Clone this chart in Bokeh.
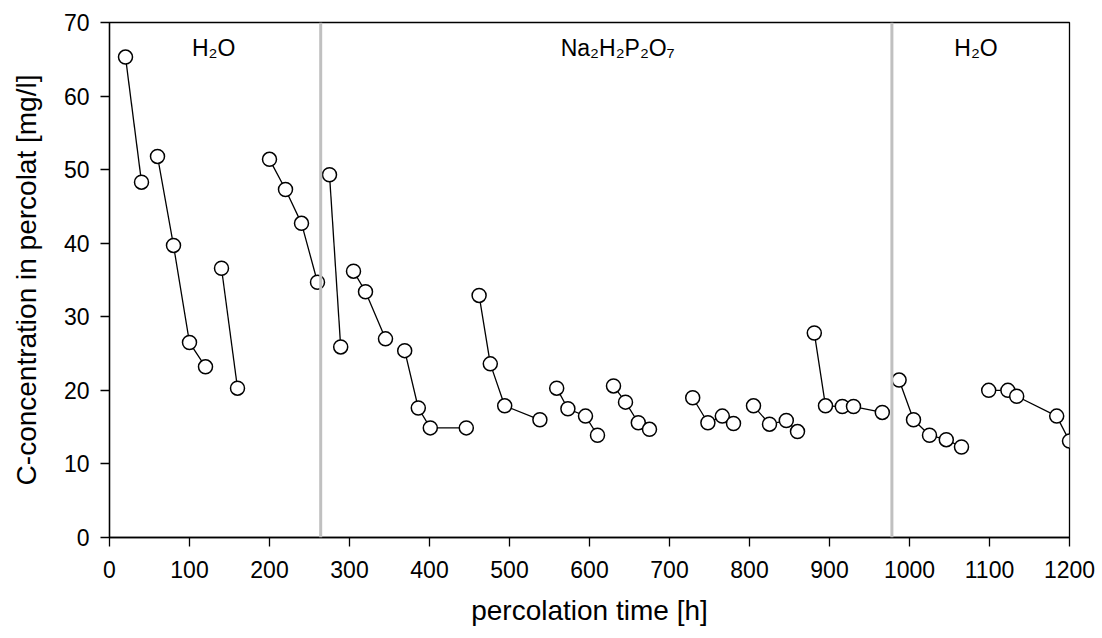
from bokeh.plotting import figure
from bokeh.models import Span, Label, FixedTicker, Range1d, ColumnDataSource
from bokeh.embed import file_html
from bokeh.resources import INLINE

# ---- data ----
run_id = [1, 1,
          2, 2, 2, 2,
          3, 3,
          4, 4, 4, 4,
          5, 5,
          6, 6, 6,
          7, 7, 7, 7,
          8, 8, 8, 8,
          9, 9, 9, 9,
          10, 10, 10, 10,
          11, 11, 11, 11,
          12, 12, 12, 12,
          13, 13, 13, 13, 13,
          14, 14, 14, 14, 14,
          15, 15, 15, 15, 15]
time_h = [20, 40,
          60, 80, 100, 120,
          140, 160,
          200, 220, 240, 260,
          275, 289,
          305, 320, 345,
          369, 386, 401, 446,
          462, 476, 494, 538,
          559, 573, 595, 610,
          630, 645, 661, 675,
          729, 748, 766, 780,
          805, 825, 846, 860,
          881, 895, 916, 930, 966,
          987, 1005, 1025, 1046, 1065,
          1099, 1123, 1134, 1184, 1200]
conc_mg_l = [65.3, 48.3,
             51.8, 39.7, 26.5, 23.2,
             36.6, 20.3,
             51.4, 47.3, 42.7, 34.7,
             49.3, 25.9,
             36.2, 33.4, 27.0,
             25.4, 17.6, 14.9, 14.9,
             32.9, 23.6, 17.9, 16.0,
             20.3, 17.5, 16.5, 13.9,
             20.6, 18.4, 15.6, 14.7,
             19.0, 15.6, 16.5, 15.5,
             17.9, 15.4, 15.9, 14.4,
             27.8, 17.9, 17.8, 17.8, 17.0,
             21.4, 16.0, 13.9, 13.3, 12.3,
             20.0, 20.0, 19.2, 16.5, 13.1]

x_ticks = list(range(0, 1201, 100))
y_ticks = list(range(0, 71, 10))

phase_bounds = [264, 978]
phase_labels = ["H\u2082O", "Na\u2082H\u2082P\u2082O\u2087", "H\u2082O"]
phase_label_x = [103, 564, 1056]
phase_label_y = [66.5, 66.5, 66.5]

FONT = "Liberation Sans"

p = figure(width=1102, height=638,
           x_range=Range1d(0, 1200), y_range=Range1d(0, 70),
           output_backend="svg", toolbar_location=None,
           min_border_left=109, min_border_right=33,
           min_border_top=22, min_border_bottom=101,
           background_fill_color="white", border_fill_color="white")

p.xgrid.visible = False
p.ygrid.visible = False
p.outline_line_color = "black"
p.outline_line_width = 1.3
p.outline_line_alpha = 1.0

p.xaxis.ticker = FixedTicker(ticks=x_ticks, minor_ticks=[])
p.yaxis.ticker = FixedTicker(ticks=y_ticks, minor_ticks=[])
p.xaxis.axis_label = "percolation time [h]"
p.yaxis.axis_label = "C-concentration in percolat [mg/l]"

for ax in (p.xaxis, p.yaxis):
    ax.axis_line_color = "black"
    ax.axis_line_width = 1.3
    ax.major_tick_line_color = "black"
    ax.major_tick_line_width = 1.3
    ax.major_tick_in = 0
    ax.major_tick_out = 9
    ax.minor_tick_in = 0
    ax.minor_tick_out = 0
    ax.major_label_text_font = FONT
    ax.major_label_text_font_size = "23px"
    ax.major_label_text_color = "black"
    ax.axis_label_text_font = FONT
    ax.axis_label_text_font_size = "28px"
    ax.axis_label_text_font_style = "normal"
    ax.axis_label_text_color = "black"

p.xaxis.major_label_standoff = 14
p.xaxis.axis_label_standoff = 14
p.yaxis.major_label_standoff = 11
p.yaxis.axis_label_standoff = 19

# connecting lines per run
runs = []
for r in run_id:
    if r not in runs:
        runs.append(r)
xs = [[t for t, rr in zip(time_h, run_id) if rr == r] for r in runs]
ys = [[c for c, rr in zip(conc_mg_l, run_id) if rr == r] for r in runs]
p.multi_line(xs=xs, ys=ys, line_color="black", line_width=1.3)

src = ColumnDataSource(dict(t=time_h, c=conc_mg_l))
p.scatter("t", "c", source=src, marker="circle", size=14,
          fill_color="white", line_color="black", line_width=1.5)

for b in phase_bounds:
    p.add_layout(Span(location=b, dimension="height",
                      line_color="#c0c0c0", line_width=3))

for txt, lx, ly in zip(phase_labels, phase_label_x, phase_label_y):
    p.add_layout(Label(x=lx, y=ly, text=txt, text_font=FONT,
                       text_font_size="23px", text_color="black",
                       text_align="left", text_baseline="alphabetic"))

open("out.html", "w").write(file_html(p, INLINE))
